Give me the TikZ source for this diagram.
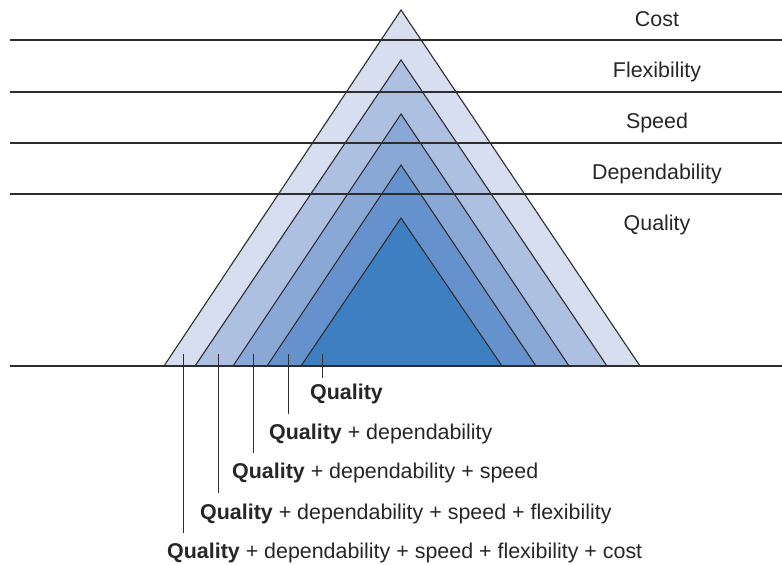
\documentclass[tikz,border=0pt]{standalone}
\usepackage{fontspec}
\setmainfont{Liberation Sans}
\definecolor{tA}{RGB}{214,222,240}
\definecolor{tB}{RGB}{173,192,226}
\definecolor{tC}{RGB}{137,168,214}
\definecolor{tD}{RGB}{101,146,205}
\definecolor{tE}{RGB}{62,127,194}
\definecolor{ln}{RGB}{45,45,45}
\begin{document}
\begin{tikzpicture}[x=1bp,y=-1bp,
  tri/.style={draw=ln,line width=1.1bp,line join=miter},
  rule/.style={draw=ln,line width=1.1bp},
  tick/.style={draw=ln,line width=1bp},
  lab/.style={font=\fontsize{21.5}{25}\selectfont,text=black!85,inner sep=0pt},
  blab/.style={lab,anchor=west}]
\useasboundingbox (0,0) rectangle (782,565);
% triangles
\foreach \c/\l/\r/\t in {tA/164/640/10, tB/195/607/60, tC/233/569/114, tD/267/536/165, tE/301/502/218}{
  \fill[\c] (\l,366) -- (401,\t) -- (\r,366) -- cycle;
  \draw[tri] (\l,366) -- (401,\t) -- (\r,366);
}
% horizontal rules
\foreach \yy/\nm in {40/ra,92/rb,143/rc,194/rd,366/re}{
  \coordinate (\nm L) at (10,\yy);
  \coordinate (\nm R) at (782,\yy);
  \draw[rule] (\nm L) -- (\nm R);
}
% right labels
\node[lab] (lcost) at (657,19) {Cost};
\node[lab] (lflex) at (657,72) {Flexibility};
\node[lab] (lspeed) at (657,123) {Speed};
\node[lab] (ldep) at (657,174) {Dependability};
\node[lab] (lqual) at (657,225) {Quality};
% bottom labels
\node[blab] (b1) at (310,394) {\textbf{Quality}};
\node[blab] (b2) at (269,434) {\textbf{Quality} + dependability};
\node[blab] (b3) at (232,473) {\textbf{Quality} + dependability + speed};
\node[blab] (b4) at (200,514) {\textbf{Quality} + dependability + speed + flexibility};
\node[blab] (b5) at (167,553) {\textbf{Quality} + dependability + speed + flexibility + cost};
% ticks
\foreach \xx/\yt/\yb/\nm in {322/354/378/k1, 288/354/414/k2, 253/354/453/k3, 218/354/493/k4, 183/354/533/k5}{
  \coordinate (\nm t) at (\xx,\yt);
  \coordinate (\nm b) at (\xx,\yb);
  \draw[tick] (\nm t) -- (\nm b);
}
\end{tikzpicture}
\end{document}
